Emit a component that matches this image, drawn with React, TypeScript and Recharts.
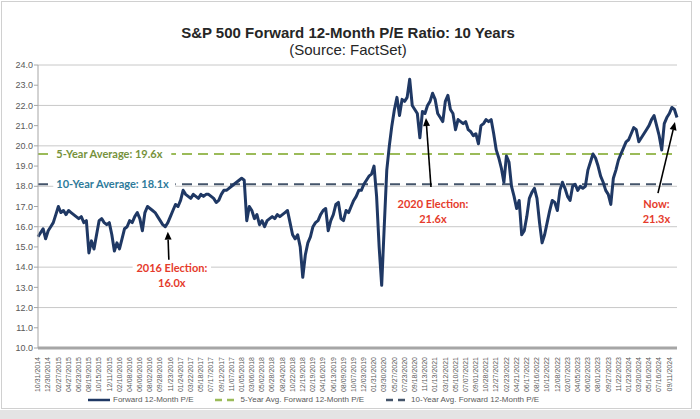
import { LineChart, Line, XAxis, YAxis, CartesianGrid, ReferenceLine, ReferenceDot } from "recharts"

// x-axis labels, one every 4th point
const tickLabels = [
  "10/31/2014", "12/30/2014", "02/27/2015", "04/27/2015", "06/23/2015", "08/19/2015", "10/15/2015",
  "12/11/2015", "02/10/2016", "04/08/2016", "06/06/2016", "08/02/2016", "09/28/2016", "11/23/2016",
  "01/24/2017", "03/22/2017", "05/18/2017", "07/17/2017", "09/12/2017", "11/07/2017", "01/05/2018",
  "03/06/2018", "05/02/2018", "06/28/2018", "08/24/2018", "10/22/2018", "12/19/2018", "02/19/2019",
  "04/16/2019", "06/13/2019", "08/09/2019", "10/07/2019", "12/03/2019", "01/31/2020", "03/30/2020",
  "05/27/2020", "07/23/2020", "09/18/2020", "11/13/2020", "01/13/2021", "03/12/2021", "05/10/2021",
  "07/07/2021", "09/01/2021", "10/28/2021", "12/27/2021", "02/23/2022", "04/21/2022", "06/17/2022",
  "08/16/2022", "10/12/2022", "12/08/2022", "02/07/2023", "04/05/2023", "06/02/2023", "08/01/2023",
  "09/27/2023", "11/22/2023", "01/23/2024", "03/20/2024", "05/16/2024", "07/16/2024", "09/11/2024",
]

// forward 12-month P/E, roughly every two weeks
const forwardPE = [
  15.5, 15.7, 15.9, 15.4, 15.8, 16.0, 16.2, 16.6, 17.0, 16.7, 16.8, 16.6,
  16.8, 16.7, 16.6, 16.5, 16.4, 16.5, 16.2, 16.3, 14.7, 15.3, 14.9, 15.6,
  16.3, 16.4, 16.2, 16.1, 16.2, 15.6, 14.8, 15.2, 14.9, 15.4, 15.9, 16.0,
  16.3, 16.2, 16.5, 16.7, 16.4, 15.8, 16.7, 17.0, 16.9, 16.8, 16.7, 16.5,
  16.3, 16.1, 16.0, 16.2, 16.5, 16.8, 17.1, 17.0, 17.3, 17.8, 17.6, 17.5,
  17.4, 17.6, 17.5, 17.4, 17.6, 17.5, 17.6, 17.6, 17.5, 17.4, 17.2, 17.3,
  17.6, 17.8, 17.8, 17.9, 18.0, 18.1, 18.2, 18.3, 18.4, 18.3, 16.3, 17.0,
  16.8, 16.4, 16.6, 16.1, 16.3, 16.0, 16.3, 16.4, 16.5, 16.4, 16.6, 16.5,
  16.6, 16.7, 16.8, 16.2, 15.6, 15.4, 15.6, 15.0, 13.5, 14.6, 15.2, 15.5,
  16.0, 16.2, 16.3, 16.6, 16.8, 16.9, 15.8, 16.3, 16.6, 17.1, 17.2, 16.4,
  16.3, 16.8, 16.7, 17.0, 17.3, 17.5, 17.8, 17.8, 18.1, 18.3, 18.5, 18.6,
  19.0, 17.5, 15.0, 13.1, 16.0, 18.8, 20.0, 21.0, 21.8, 22.4, 21.5, 22.3,
  22.2, 22.4, 23.3, 22.0, 21.8, 21.6, 20.4, 21.7, 21.6, 22.0, 22.2, 22.6,
  22.3, 21.6, 21.4, 21.2, 22.2, 22.5, 21.8, 21.6, 20.8, 21.3, 21.2, 21.1,
  21.2, 20.8, 20.7, 20.5, 20.6, 20.1, 21.0, 21.1, 21.3, 21.2, 21.3, 20.6,
  19.8, 19.4, 18.9, 18.2, 19.5, 19.2, 18.0, 17.5, 16.9, 17.3, 15.6, 15.8,
  16.5, 17.4, 17.7, 17.9, 17.4, 16.2, 15.2, 15.6, 16.2, 16.8, 17.3, 17.2,
  16.8, 17.8, 18.2, 17.9, 17.5, 17.3, 18.0, 18.1, 17.8, 18.0, 17.9, 18.0,
  18.8, 19.2, 19.6, 19.4, 19.0, 18.5, 18.2, 17.8, 17.6, 17.1, 18.4, 18.8,
  19.3, 19.6, 19.9, 20.2, 20.3, 20.6, 20.9, 20.8, 20.2, 20.4, 20.6, 20.8,
  21.0, 21.3, 21.5, 21.0, 20.5, 19.8, 21.1, 21.4, 21.6, 21.9, 21.8, 21.4,
]

const fiveYearAvg = 19.6
const tenYearAvg = 18.1
const yTicks = [10, 11, 12, 13, 14, 15, 16, 17, 18, 19, 20, 21, 22, 23, 24]
const xTicks = tickLabels.map((_, i) => i * 4)

const NAVY = "#1f3864"
const GREEN = "#9bbb59"
const SLATE = "#44546a"
const RED = "#e53b2c"
const FONT = "'Liberation Sans', Arial, sans-serif"
const LABEL_FONT = "Lato, 'Open Sans', sans-serif"

const data = forwardPE.map((v, i) => ({ idx: i, pe: v }))

const XTick = ({ x, y, payload }: any) => (
  <g transform={`translate(${x},${y + 1})`}>
    <text transform="rotate(-90)" textAnchor="end" dy="0.32em" fontSize={7} fill="#595959" fontFamily={FONT}>
      {tickLabels[payload.value / 4]}
    </text>
  </g>
)

// label that sits on an average line, with a white box behind it
const avgLabel = (text: string, color: string, boxW: number) => (props: any) => {
  const { cx, cy } = props
  return (
    <g>
      <rect x={cx} y={cy - 7} width={boxW} height={14} fill="#fff" />
      <text x={cx + 3} y={cy} dy="0.35em" fontSize={11} fontWeight={700} fill={color} fontFamily={LABEL_FONT}>
        {text}
      </text>
    </g>
  )
}

// arrow pointing at the line plus red text below its tail
const callout = (lines: string[], tipDy: number, tailDx: number, tailDy: number, textDx: number, textDy: number) =>
  (props: any) => {
    const { cx, cy } = props
    const tx = cx
    const ty = cy + tipDy
    const sx = tx + tailDx
    const sy = ty + tailDy
    const len = Math.hypot(tx - sx, ty - sy)
    const ux = (tx - sx) / len
    const uy = (ty - sy) / len
    const hl = 8
    const hw = 3.5
    const bx = tx - ux * hl
    const by = ty - uy * hl
    return (
      <g>
        {lines.map((t, i) => (
          <rect key={"r" + i} x={tx + textDx - (t.length * 5.6) / 2} y={ty + textDy + i * 15 - 7} width={t.length * 5.6} height={14} fill="#fff" />
        ))}
        <line x1={sx} y1={sy} x2={bx} y2={by} stroke="#000" strokeWidth={1.6} />
        <polygon
          points={`${tx},${ty} ${bx - uy * hw},${by + ux * hw} ${bx + uy * hw},${by - ux * hw}`}
          fill="#000"
        />
        {lines.map((t, i) => (
          <text key={i} x={tx + textDx} y={ty + textDy + i * 15} dy="0.35em" textAnchor="middle" fontSize={11} fontWeight={700} fill={RED} fontFamily={LABEL_FONT}>
            {t}
          </text>
        ))}
      </g>
    )
  }

const LegendItem = ({ color, dashed, label }: { color: string; dashed?: boolean; label: string }) => (
  <div style={{ display: "flex", alignItems: "center", marginRight: 22 }}>
    <svg width={22} height={6} style={{ marginRight: 3 }}>
      <line x1={0} y1={3} x2={22} y2={3} stroke={color} strokeWidth={2.5} strokeDasharray={dashed ? "7 5" : undefined} />
    </svg>
    <span>{label}</span>
  </div>
)

export default function App() {
  return (
    <div style={{ position: "absolute", left: 0, top: 0, width: 700, height: 419, background: "#fff", overflow: "hidden" }}>
      <div style={{ position: "absolute", left: 1, top: 1, width: 689, height: 406, border: "1px solid #d0d0d0" }} />
      <div style={{ position: "absolute", left: 0, top: 410, width: 700, height: 9, background: "#e4e4e4" }} />
      <div style={{ position: "absolute", left: 0, top: 24, width: 696, textAlign: "center", fontFamily: FONT, color: "#262626" }}>
        <div style={{ fontSize: 15, fontWeight: 700, lineHeight: "17px" }}>S&amp;P 500 Forward 12-Month P/E Ratio: 10 Years</div>
        <div style={{ fontSize: 15, lineHeight: "17px" }}>(Source: FactSet)</div>
      </div>
      <div style={{ position: "absolute", left: 0, top: 0 }}>
        <LineChart width={700} height={419} data={data} margin={{ top: 65, right: 23, bottom: 26, left: 8 }}>
          <CartesianGrid vertical={false} stroke="#c8c8c8" />
          <XAxis
            dataKey="idx"
            type="number"
            domain={[0, forwardPE.length - 1]}
            ticks={xTicks}
            interval={0}
            height={45}
            tick={<XTick />}
            tickLine={false}
            axisLine={{ stroke: "#a6a6a6", strokeWidth: 3 }}
          />
          <YAxis
            domain={[10, 24]}
            ticks={yTicks}
            width={30}
            tickFormatter={(v: number) => v.toFixed(1)}
            tick={{ fontSize: 9, fill: "#595959", fontFamily: FONT }}
            tickSize={4}
            tickMargin={1}
            tickLine={{ stroke: "#a6a6a6" }}
            axisLine={{ stroke: "#a6a6a6" }}
          />
          <ReferenceLine y={fiveYearAvg} stroke={GREEN} strokeWidth={2} strokeDasharray="10 6" />
          <ReferenceLine y={tenYearAvg} stroke={SLATE} strokeWidth={2} strokeDasharray="10 6" />
          <Line dataKey="pe" stroke={NAVY} strokeWidth={3} strokeLinejoin="round" dot={false} isAnimationActive={false} />
          <ReferenceDot x={6} y={fiveYearAvg} r={0} shape={avgLabel("5-Year Average: 19.6x", "#76923c", 118)} />
          <ReferenceDot x={6} y={tenYearAvg} r={0} shape={avgLabel("10-Year Average: 18.1x", "#2f7b9b", 122)} />
          <ReferenceDot x={51} y={16.0} r={0} shape={callout(["2016 Election:", "16.0x"], 5, 1, 28, 4, 36)} />
          <ReferenceDot x={152.4} y={21.6} r={0} shape={callout(["2020 Election:", "21.6x"], 4.5, 5, 69, 7, 86)} />
          <ReferenceDot x={250.2} y={21.3} r={0} shape={callout(["Now:", "21.3x"], 2.5, -17, 71, -18.5, 82)} />
        </LineChart>
      </div>
      <div style={{ position: "absolute", left: 88, top: 395, display: "flex", fontFamily: FONT, fontSize: 8, color: "#595959" }}>
        <LegendItem color={NAVY} label="Forward 12-Month P/E" />
        <LegendItem color={GREEN} dashed label="5-Year Avg. Forward 12-Month P/E" />
        <LegendItem color={SLATE} dashed label="10-Year Avg. Forward 12-Month P/E" />
      </div>
    </div>
  )
}
